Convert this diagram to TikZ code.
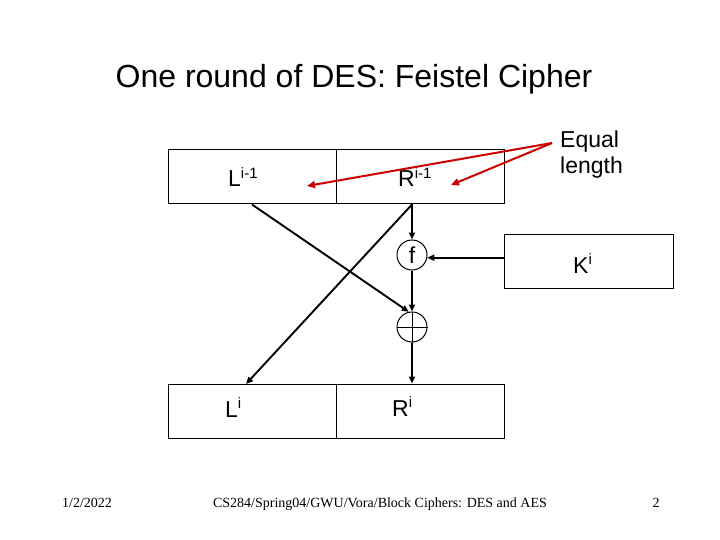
\documentclass[tikz,border=0pt]{standalone}
\usepackage{fontspec}
\setmainfont{Liberation Sans}
\newfontfamily\footfont{Liberation Serif}
\usetikzlibrary{arrows.meta}
\definecolor{hintred}{RGB}{204,0,0}
\newcommand{\upidx}[1]{\raisebox{8.5pt}{\fontsize{15}{15}\selectfont #1}}
\newcommand{\labfont}{\fontsize{23}{26}\selectfont}

\begin{document}
\begin{tikzpicture}[x=1pt, y=-1pt,
    halfbox/.style={draw, line width=1pt, minimum width=168pt, minimum height=54pt, inner sep=0pt},
    opcircle/.style={draw, circle, line width=1pt, minimum size=30pt, inner sep=0pt},
    flow/.style={line width=1.9pt, -{Triangle[length=7pt,width=6pt]}},
    hint/.style={hintred, line width=2pt, -{Triangle[length=8pt,width=7pt]}},
    lab/.style={anchor=base west, inner sep=0pt, font=\labfont}]
  \useasboundingbox (0,0) rectangle (720,540);

  \node[anchor=base, font=\fontsize{32}{38}\selectfont] (title) at (354,88) {One round of DES: Feistel Cipher};

  % the four halves and the key box
  \foreach \nm/\cx/\cy in {Lprev/252/177, Rprev/420/177, Lnext/252/411, Rnext/420/411}
    \node[halfbox] (\nm) at (\cx,\cy) {};
  \node[halfbox, minimum width=169pt] (Kbox) at (588.5,261) {};

  \foreach \nm/\px/\py/\txt in {llab/228/187/{L\upidx{i-1}}, rlab/398/187/{R\upidx{i-1}},
      lnlab/225/417/{L\upidx{i}}, rnlab/392/416/{R\upidx{i}}, klab/573/273/{K\upidx{i}}}
    \node[lab] (\nm) at (\px,\py) {\txt};

  % round function and xor
  \node[opcircle, font=\labfont] (f) at (412,255) {f};
  \node[opcircle] (xor) at (412,327) {};
  \draw[line width=1pt] (xor.north) -- (xor.south) (xor.west) -- (xor.east);

  \coordinate (split) at (f.north |- Rprev.south);
  \coordinate (lhead) at (246,384);
  \draw[flow] (split) -- (f);
  \draw[flow] (f) -- (xor);
  \draw[flow] (xor) -- (xor |- Rnext.north);
  \draw[flow] (split) -- (lhead);
  \draw[flow] (Lprev.south) -- (xor.102);
  \draw[flow] (Kbox.west |- f.-10) -- (f.-10);

  % note on lengths
  \node[anchor=north west, align=left, inner sep=0pt, font=\labfont] (eqnote) at (560,131) {Equal\\length};
  \coordinate (eqtip) at (552,143);
  \coordinate (lmark) at (307,186);
  \coordinate (rmark) at (451,185);
  \draw[hint] (eqtip) -- (lmark);
  \draw[hint] (eqtip) -- (rmark);

  % footer
  \node[anchor=base, font={\footfont\fontsize{14}{16}\selectfont}] (date) at (87,507) {1/2/2022};
  \node[anchor=base, font={\footfont\fontsize{14}{16}\selectfont}] (footer) at (380,507) {CS284/Spring04/GWU/Vora/Block Ciphers: DES and AES};
  \node[anchor=base, font={\footfont\fontsize{14}{16}\selectfont}] (page) at (656,507) {2};
\end{tikzpicture}
\end{document}
